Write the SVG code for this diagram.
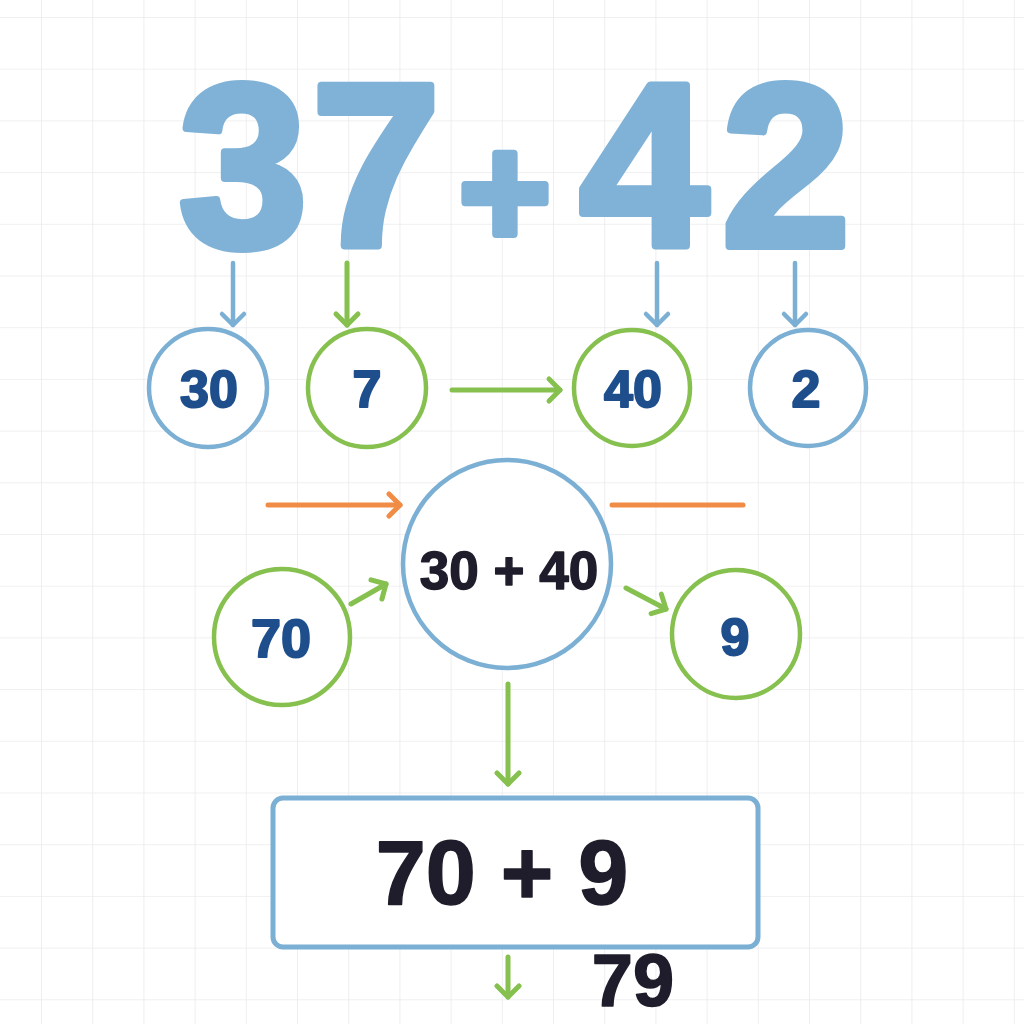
<svg xmlns="http://www.w3.org/2000/svg" width="1024" height="1024" viewBox="0 0 1024 1024">
  <defs>
    <pattern id="grid" patternUnits="userSpaceOnUse" x="41" y="17" width="51.2" height="51.7">
      <path d="M0,0 V51.7 M0,0 H51.2" stroke="#ebebee" stroke-width="1.6" fill="none"/>
    </pattern>
    <marker id="ahBlue" viewBox="-16 -16 32 32" markerUnits="userSpaceOnUse" markerWidth="32" markerHeight="32" refX="0" refY="0" orient="auto">
      <path d="M-11,-11 L0,0 L-11,11" fill="none" stroke="#7bafd4" stroke-width="4.5" stroke-linecap="round" stroke-linejoin="round"/>
    </marker>
    <marker id="ahGreen" viewBox="-16 -16 32 32" markerUnits="userSpaceOnUse" markerWidth="32" markerHeight="32" refX="0" refY="0" orient="auto">
      <path d="M-11,-11 L0,0 L-11,11" fill="none" stroke="#86c04f" stroke-width="5" stroke-linecap="round" stroke-linejoin="round"/>
    </marker>
    <marker id="ahOrange" viewBox="-16 -16 32 32" markerUnits="userSpaceOnUse" markerWidth="32" markerHeight="32" refX="0" refY="0" orient="auto">
      <path d="M-11,-11 L0,0 L-11,11" fill="none" stroke="#f08c45" stroke-width="5" stroke-linecap="round" stroke-linejoin="round"/>
    </marker>
  </defs>
  <style>
    .big { font-family: "Liberation Sans", Arial, sans-serif; font-weight: bold; fill: #7fb2d6; stroke: #7fb2d6; stroke-width: 8; stroke-linejoin: round; }
    .num { font-family: "Liberation Sans", Arial, sans-serif; font-weight: bold; fill: #1e4f8c; stroke: #1e4f8c; stroke-width: 2; stroke-linejoin: round; text-anchor: middle; }
    .dark { font-family: "Liberation Sans", Arial, sans-serif; font-weight: bold; fill: #1f1d2b; stroke: #1f1d2b; stroke-width: 1.5; stroke-linejoin: round; }
    .cb { fill: #ffffff; stroke: #7bafd4; stroke-width: 4.5; }
    .cg { fill: #ffffff; stroke: #86c04f; stroke-width: 4.5; }
    .lb { stroke: #7bafd4; stroke-width: 4.5; stroke-linecap: round; fill: none; }
    .lg { stroke: #86c04f; stroke-width: 5; stroke-linecap: round; fill: none; }
    .lo { stroke: #f08c45; stroke-width: 5; stroke-linecap: round; fill: none; }
  </style>
  <rect width="1024" height="1024" fill="#ffffff"/>
  <rect width="1024" height="1024" fill="url(#grid)"/>

  <g id="title">
    <text class="big" font-size="232" y="246" x="243 376 505 644 786" text-anchor="middle">37<tspan font-size="158">+</tspan>42</text>
  </g>

  <g id="connectors">
    <line class="lb" x1="233" y1="263" x2="233" y2="325" marker-end="url(#ahBlue)"/>
    <line class="lg" x1="347" y1="263" x2="347" y2="325" marker-end="url(#ahGreen)"/>
    <line class="lb" x1="657" y1="263" x2="657" y2="325" marker-end="url(#ahBlue)"/>
    <line class="lb" x1="795" y1="263" x2="795" y2="325" marker-end="url(#ahBlue)"/>
    <line class="lg" x1="452" y1="390" x2="560" y2="390" marker-end="url(#ahGreen)"/>
    <line class="lo" x1="268" y1="505" x2="400" y2="505" marker-end="url(#ahOrange)"/>
    <line class="lo" x1="612" y1="505" x2="743" y2="505"/>
    <line class="lg" x1="351" y1="604" x2="386" y2="584" marker-end="url(#ahGreen)"/>
    <line class="lg" x1="626" y1="588" x2="666" y2="609" marker-end="url(#ahGreen)"/>
    <line class="lg" x1="508" y1="684" x2="508" y2="784" marker-end="url(#ahGreen)"/>
    <line class="lg" x1="508" y1="957" x2="508" y2="997" marker-end="url(#ahGreen)"/>
  </g>

  <g id="n30">
    <circle class="cb" cx="208" cy="388" r="59"/>
    <text class="num" x="209" y="407" font-size="52">30</text>
  </g>
  <g id="n7">
    <circle class="cg" cx="367" cy="388" r="59"/>
    <text class="num" x="367" y="407" font-size="52">7</text>
  </g>
  <g id="n40">
    <circle class="cg" cx="632" cy="388" r="58"/>
    <text class="num" x="633" y="407" font-size="52">40</text>
  </g>
  <g id="n2">
    <circle class="cb" cx="808" cy="388" r="58"/>
    <text class="num" x="806" y="407" font-size="52">2</text>
  </g>

  <g id="sum30_40">
    <ellipse class="cb" cx="507" cy="564" rx="104" ry="104"/>
    <text class="dark" x="509" y="589" font-size="53" text-anchor="middle">30 + 40</text>
  </g>
  <g id="n70">
    <circle class="cg" cx="282" cy="637" r="68"/>
    <text class="num" x="281" y="657" font-size="54">70</text>
  </g>
  <g id="n9">
    <circle class="cg" cx="736" cy="634" r="64"/>
    <text class="num" x="735" y="655" font-size="52">9</text>
  </g>

  <g id="result">
    <rect x="273" y="798" width="485" height="149" rx="10" ry="10" fill="#ffffff" stroke="#7bafd4" stroke-width="5"/>
    <text class="dark" x="502" y="904" font-size="90" text-anchor="middle">70 + 9</text>
  </g>
  <g id="answer">
    <text class="dark" x="633" y="1006" font-size="74" text-anchor="middle">79</text>
  </g>
</svg>
